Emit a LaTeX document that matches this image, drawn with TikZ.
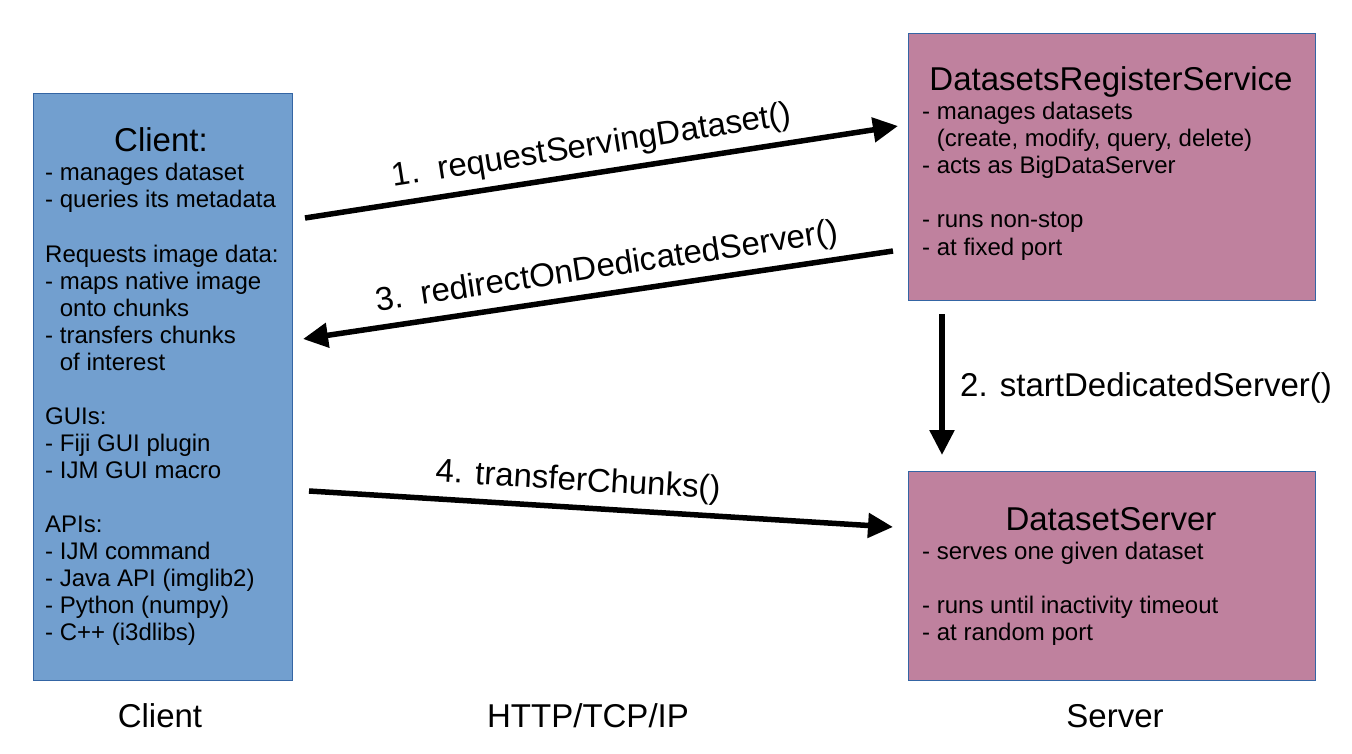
\documentclass[tikz,border=0pt]{standalone}
\usepackage{fontspec}
\setmainfont{Liberation Sans}
\usetikzlibrary{arrows.meta}
\definecolor{clientblue}{HTML}{729FCF}
\definecolor{servermauve}{HTML}{BF819E}
\definecolor{edgeblue}{HTML}{3465A4}
\tikzset{
  box/.style={draw=edgeblue, line width=1pt, anchor=north west, inner sep=0pt},
  body/.style={font=\fontsize{24}{27}\selectfont, anchor=base west, inner sep=0pt, text height=17pt, text depth=5pt},
  big/.style={font=\fontsize{33}{38}\selectfont, inner sep=0pt},
  conn/.style={line width=5.5pt, -{Triangle[length=25pt,width=24pt]}},
}
\newcommand{\ind}{\hphantom{-}\ }
\begin{document}
\begin{tikzpicture}[x=1pt,y=-1pt]
\useasboundingbox (0,0) rectangle (1352,754);
% boxes
\node[box, fill=clientblue, minimum width=259pt, minimum height=587pt] (client) at (33,93) {};
\node[box, fill=servermauve, minimum width=407pt, minimum height=267pt] (drs) at (908,33) {};
\node[box, fill=servermauve, minimum width=407pt, minimum height=209pt] (ds) at (908,471) {};
% client text
\node[big, anchor=base] (ctitle) at (161,152) {Client:};
\foreach \t [count=\i from 0] in {- manages dataset, - queries its metadata, , Requests image data:, - maps native image, \ind onto chunks, - transfers chunks, \ind of interest, , GUIs:, - Fiji GUI plugin, - IJM GUI macro, , APIs:, - IJM command, - Java API (imglib2), - Python (numpy), - C++ (i3dlibs)}
  \node[body] (cl\i) at (45,181+27*\i) {\t};
% DatasetsRegisterService text
\node[big, anchor=base] (drstitle) at (1111,91) {DatasetsRegisterService};
\foreach \t [count=\i from 0] in {- manages datasets, {\ind(create, modify, query, delete)}, - acts as BigDataServer, , - runs non-stop, - at fixed port}
  \node[body] (dl\i) at (922,120+27*\i) {\t};
% DatasetServer text
\node[big, anchor=base] (dstitle) at (1111,530) {DatasetServer};
\foreach \t [count=\i from 0] in {- serves one given dataset, , - runs until inactivity timeout, - at random port}
  \node[body] (sl\i) at (922,559+27*\i) {\t};
% connectors
\coordinate (a1s) at (305,218);
\coordinate (a1e) at (898,126);
\coordinate (a3s) at (893,251);
\coordinate (a3e) at (303,339);
\coordinate (a2s) at (942,314);
\coordinate (a2e) at (942,455);
\coordinate (a4s) at (309,491);
\coordinate (a4e) at (893,527);
\draw[conn] (a1s) -- (a1e);
\draw[conn] (a3s) -- (a3e);
\draw[conn] (a2s) -- (a2e);
\draw[conn] (a4s) -- (a4e);
% connector labels
\node[big, rotate=8.9] (l1) at (592,147) {1.\ \ requestServingDataset()};
\node[big, rotate=8.6] (l3) at (607,268) {3.\ \ redirectOnDedicatedServer()};
\node[big, anchor=base west] (l2) at (960,396) {2. startDedicatedServer()};
\node[big, rotate=-3.5] (l4) at (578,482) {4. transferChunks()};
% bottom labels
\node[big, anchor=base] (bclient) at (160,727) {Client};
\node[big, anchor=base] (bproto) at (588,727) {HTTP/TCP/IP};
\node[big, anchor=base] (bserver) at (1115,727) {Server};
\end{tikzpicture}
\end{document}
